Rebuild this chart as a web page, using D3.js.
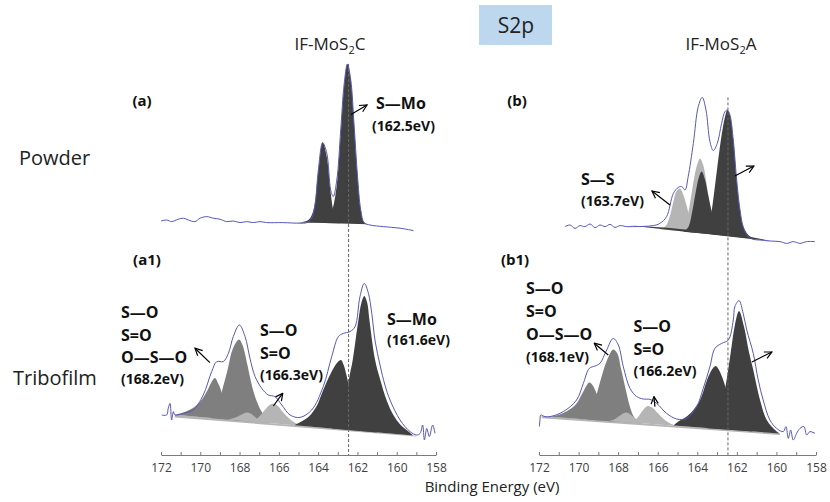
<!DOCTYPE html>
<html><head><meta charset="utf-8">
<script src="https://cdn.jsdelivr.net/npm/d3@7"></script>
<style>body{margin:0;background:#fff}svg{display:block}</style>
</head><body><svg id="c" width="830" height="502"></svg>
<script>
// ---------------- DATA (binding energy eV, intensity a.u.) ----------------
const tickEnergies = [172,171,170,169,168,167,166,165,164,163,162,161,160,159,158];
const tickLabels = [172,170,168,166,164,162,160,158];
const refEnergy = [162.45];

// (a) IF-MoS2C powder
const envA = [[172.0,12.0],[171.71,12.5],[171.46,11.7],[171.12,12.9],[170.86,13.4],[170.61,12.5],[170.27,11.7],[170.01,13.4],[169.67,14.2],[169.34,13.4],[169.0,12.9],[168.66,11.7],[168.32,12.0],[167.98,11.2],[167.64,11.7],[167.30,11.2],[166.96,11.7],[166.62,11.2],[165.8,11.2],[164.92,10.9],[164.58,11.2],[164.33,13.5],[164.16,20],[163.99,37.5],[163.77,51.2],[163.56,45.9],[163.36,27.5],[163.23,24.2],[163.05,32.5],[162.85,57.5],[162.68,80],[162.51,90.5],[162.34,82.5],[162.17,60],[162.0,35],[161.83,17.5],[161.66,11.2],[161.36,10],[160.68,9.2],[159.83,8.4],[159.15,7.2]];
const moA_1 = [[163.7,11.0],[163.45,13],[163.25,18.5],[163.05,30],[162.85,56],[162.68,79],[162.51,90.5],[162.34,82.5],[162.17,60],[162.0,35],[161.83,17.5],[161.66,11.2],[161.5,10.4]];
const moA_2 = [[165.3,11.2],[164.9,11.4],[164.5,12.5],[164.25,17],[164.0,36],[163.77,51.2],[163.56,44],[163.36,26],[163.2,16],[163.0,11.5],[162.8,10.9]];

// (b) IF-MoS2A powder
const envB = [[170.69,9.2],[170.43,10.0],[170.18,8.3],[169.93,9.7],[169.68,9.2],[169.42,10.5],[169.17,8.7],[168.92,10.0],[168.66,9.2],[168.41,10.3],[168.16,8.8],[167.91,9.7],[167.57,9.2],[167.23,9.2],[166.73,9.3],[166.22,9.7],[165.89,10.8],[165.55,14.2],[165.21,25.8],[164.96,28.8],[164.79,29.2],[164.62,27.5],[164.46,34.2],[164.20,50.8],[163.95,69.2],[163.75,73.8],[163.56,67.5],[163.36,51.7],[163.19,47.2],[162.99,50.8],[162.77,60.8],[162.60,66.7],[162.48,67.5],[162.35,65.0],[162.18,52.5],[162.01,32.5],[161.84,17.5],[161.68,9.2],[161.42,4.2],[161.17,2.8],[160.83,2.5],[160.33,2.0],[159.82,1.7],[159.48,0.8],[159.15,1.7],[158.81,0.8],[158.47,1.7],[158.05,1.7]];
const moB_1 = [[163.6,5.7],[163.4,10],[163.22,20.8],[163.0,38],[162.77,55],[162.6,64],[162.48,67.5],[162.35,65],[162.18,52.5],[162.01,32.5],[161.84,17.5],[161.68,9.2],[161.42,5.0],[161.17,3.5],[160.8,2.7]];
const moB_2 = [[164.7,6.6],[164.45,9],[164.25,17],[164.05,28],[163.9,34.5],[163.78,36.7],[163.62,33],[163.45,25],[163.3,18],[163.1,11],[162.9,6.5],[162.7,5.0]];
const ssB_1 = [[164.7,6.6],[164.54,12],[164.35,22],[164.15,34],[163.98,41],[163.86,43.3],[163.7,40],[163.55,32],[163.4,22],[163.25,14],[163.05,8],[162.8,5.5],[162.5,4.6]];
const ssB_2 = [[165.9,7.9],[165.6,9.5],[165.4,14],[165.2,22],[165.05,27],[164.88,28.3],[164.7,25],[164.55,20],[164.35,13],[164.1,8],[163.8,5.9]];
const bgB = [[167.4,9.7],[165.5,8.6],[163.5,6.6],[161.5,4.4],[160.3,2.1],[161.5,3.3],[163.5,5.5],[165.5,7.6]];

// (a1) IF-MoS2C tribofilm
const envA1 = [[171.96,15],[171.71,15],[171.63,18.5],[171.54,20.8],[171.46,12.5],[171.37,16.7],[171.29,15],[170.8,16],[170.36,17.5],[169.85,25],[169.42,36.7],[169.16,41.7],[168.83,41.7],[168.57,45.8],[168.32,54.2],[168.01,60],[167.72,54.2],[167.47,43.3],[167.21,34.2],[166.87,28.3],[166.54,25],[166.2,24.2],[165.85,20],[165.43,15],[164.92,13.8],[164.33,17.5],[163.74,29.2],[163.31,44.2],[162.97,54.2],[162.72,55.8],[162.38,56.7],[162.12,59.2],[161.87,74.2],[161.65,80.8],[161.44,75.8],[161.27,65.8],[161.1,52],[160.85,40],[160.6,30],[160.34,22.5],[159.83,12.5],[159.32,6.7],[158.98,5],[158.81,5.8],[158.68,10],[158.59,2.5],[158.47,8.3],[158.34,4.2],[158.17,10],[158.05,5.8]];
const soA1_1 = [[171.3,15.1],[170.8,16.5],[170.3,19],[169.9,23],[169.6,28],[169.4,32],[169.25,33.5],[169.1,31],[168.95,27.5],[168.8,23],[168.6,18],[168.3,14.5],[168.0,12.3]];
const soA1_2 = [[169.4,13.4],[169.2,17],[169.0,23],[168.88,27.5],[168.6,38],[168.35,48],[168.03,52.8],[167.85,50],[167.6,40],[167.47,34],[167.3,27],[167.13,22],[166.9,17],[166.7,14],[166.5,11.0]];
const sxA1_1 = [[168.6,12.8],[168.2,13.8],[167.9,15.2],[167.64,16.2],[167.4,15.5],[167.15,13.5],[166.9,11.3]];
const sxA1_2 = [[167.4,11.7],[167.1,13.3],[166.8,16.5],[166.5,19.8],[166.28,20.8],[166.05,19.5],[165.8,16.5],[165.5,13.5],[165.2,11.2],[164.9,9.6]];
const moA1_2 = [[165.2,9.9],[164.9,11.5],[164.5,14],[164.1,19],[163.74,27.5],[163.31,36.7],[163.0,41.5],[162.84,42.5],[162.7,40],[162.54,34.2],[162.35,26],[162.1,18],[161.8,12],[161.4,8.5],[161.0,6.3]];
const moA1_1 = [[163.3,8.3],[163.0,11],[162.7,18],[162.41,34],[162.24,42.5],[161.95,62.5],[161.8,71],[161.65,74.5],[161.5,71],[161.39,62.5],[161.1,42.5],[160.85,33],[160.5,22],[160.17,15],[159.8,10],[159.49,7.5],[159.15,4.7]];
const bgA1 = [[171.3,15.1],[159.0,4.6],[159.0,4.2],[171.3,13.8]];

// (b1) IF-MoS2A tribofilm
const envB1 = [[171.98,9.2],[171.95,12.5],[171.91,15],[171.7,14.2],[171.44,14.2],[170.77,16.7],[170.1,22.5],[169.76,30.8],[169.46,38.3],[169.17,39.5],[168.92,40.8],[168.58,47.5],[168.25,53.3],[167.99,50],[167.74,39.2],[167.4,28.3],[167.06,24.2],[166.73,23],[166.39,22.8],[166.05,20.8],[165.55,15.8],[165.04,13],[164.54,13.3],[164.03,19.2],[163.7,28.3],[163.36,39.2],[163.11,48.3],[162.77,50.8],[162.43,52.5],[162.18,62.5],[162.1,69.2],[161.89,72.2],[161.68,65.8],[161.5,57.5],[161.17,45.8],[160.92,32.5],[160.67,22.5],[160.33,12.5],[159.99,8.3],[159.65,6.7],[159.52,9.2],[159.4,3.3],[159.28,7.5],[159.15,2.5],[158.98,5.8],[158.81,8.3],[158.61,9.2],[158.47,5],[158.31,6.7],[158.05,5.8]];
const soB1_1 = [[171.4,14.1],[170.9,15.5],[170.5,17.5],[170.1,20.8],[169.76,26.7],[169.46,31.2],[169.3,30],[169.08,25.5],[168.9,20],[168.7,16],[168.4,13],[168.1,11.6]];
const soB1_2 = [[169.6,12.8],[169.35,16],[169.08,25.5],[168.9,32],[168.58,42],[168.25,47.8],[168.05,46],[167.85,38],[167.6,27],[167.4,19],[167.2,14],[166.95,11.5],[166.7,10.7]];
const sxB1_1 = [[168.5,12.0],[168.2,12.8],[167.9,14.8],[167.6,16.2],[167.35,15],[167.1,13],[166.85,10.9]];
const sxB1_2 = [[167.4,11.3],[167.1,12.8],[166.85,16],[166.6,19],[166.48,19.5],[166.25,18.5],[166.0,16],[165.7,13],[165.4,11],[165.1,9.6]];
const moB1_2 = [[165.2,9.7],[164.96,11.7],[164.5,14.5],[164.2,17.5],[163.86,22.5],[163.44,34.2],[163.2,38.5],[163.06,39.5],[162.9,37.5],[162.69,32.5],[162.52,27],[162.3,19],[162.0,12],[161.6,8.5],[161.2,6.8]];
const moB1_1 = [[163.5,8.4],[163.1,11],[162.8,18],[162.52,32.5],[162.3,47],[162.1,60],[161.89,67],[161.64,59.2],[161.4,47],[161.17,37.5],[160.83,22.5],[160.49,12.5],[160.07,7.5],[159.85,5.8]];
const bgB1 = [[171.86,14.5],[159.82,5.8],[159.82,5.0],[171.86,13.4]];

// annotation arrows in data coordinates [from, to]
const arrowsA = [[[162.33,65.3],[161.51,70]]];
const arrowsB = [[[165.38,20],[166.29,27]],[[162.10,34.5],[161.14,39.5]]];
const arrowsA1 = [[[169.51,41.2],[170.27,48.4]],[[166.28,19.5],[165.80,25.9]]];
const arrowsB1 = [[[168.50,45],[169.21,50.9]],[[166.14,19.2],[166.19,24.2]],[[161.24,41.5],[160.23,46.5]]];

// ---------------- STYLE / LAYOUT ----------------
const C = {dark:"#404040", mid:"#7f7f7f", light:"#b5b5b5", env:"#5558b8"};
const FONT = "'Open Sans', 'Noto Sans', sans-serif";
const axisY = 455;

const svg = d3.select("#c");
const defs = svg.append("defs");
defs.append("marker").attr("id","ah").attr("viewBox","0 0 10 10").attr("refX",9).attr("refY",5)
  .attr("markerWidth",9).attr("markerHeight",9).attr("markerUnits","userSpaceOnUse").attr("orient","auto")
  .append("path").attr("d","M1,1 L9,5 L1,9").attr("fill","none").attr("stroke","#000").attr("stroke-width",1.3);

const xL = d3.scaleLinear().domain([172,158]).range([161,436]);
const xR = d3.scaleLinear().domain([172,158]).range([539,816]);
const yTop = d3.scaleLinear().domain([0,100]).range([245,45]);
const yBot = d3.scaleLinear().domain([0,100]).range([445,245]);

const panels = [
  {x:xL, y:yTop, env:envA, comps:[[moA_2,C.dark],[moA_1,C.dark]], arrows:arrowsA},
  {x:xR, y:yTop, env:envB, comps:[[ssB_2,C.light],[ssB_1,C.light],[bgB,C.dark,true],[moB_2,C.dark],[moB_1,C.dark]], arrows:arrowsB},
  {x:xL, y:yBot, env:envA1, comps:[[bgA1,C.light,true],[soA1_1,C.mid],[soA1_2,C.mid],[sxA1_1,C.light],[sxA1_2,C.light],[moA1_2,C.dark],[moA1_1,C.dark]], arrows:arrowsA1, axis:true},
  {x:xR, y:yBot, env:envB1, comps:[[bgB1,C.light,true],[soB1_1,C.mid],[soB1_2,C.mid],[sxB1_1,C.light],[sxB1_2,C.light],[moB1_2,C.dark],[moB1_1,C.dark]], arrows:arrowsB1, axis:true}
];

// dashed reference lines (from top-panel peak down to axis)
[[xL,envA],[xR,envB]].forEach(([x,env])=>{
  const top = d3.max(env, d=>d[1]);
  svg.append("line").attr("x1",x(refEnergy[0])).attr("x2",x(refEnergy[0]))
    .attr("y1",yTop(top)).attr("y2",axisY)
    .attr("stroke","#666").attr("stroke-width",1).attr("stroke-dasharray","3,2");
});

panels.forEach(p=>{
  const g = svg.insert("g","line");
  const smooth = d3.line().x(d=>p.x(d[0])).y(d=>p.y(d[1])).curve(d3.curveCatmullRom.alpha(0.5));
  const lin = d3.line().x(d=>p.x(d[0])).y(d=>p.y(d[1]));
  p.comps.forEach(([pts,col,poly])=>{
    g.append("path").attr("d",(poly?lin(pts):smooth(pts))+"Z").attr("fill",col).attr("stroke","none");
  });
  g.append("path").attr("d",smooth(p.env)).attr("fill","none").attr("stroke",C.env).attr("stroke-width",1);
  p.arrows.forEach(([a,b])=>{
    svg.append("line").attr("x1",p.x(a[0])).attr("y1",p.y(a[1])).attr("x2",p.x(b[0])).attr("y2",p.y(b[1]))
      .attr("stroke","#000").attr("stroke-width",1.2).attr("marker-end","url(#ah)");
  });
  if(p.axis){
    const ax = svg.append("g").attr("transform",`translate(0,${axisY})`)
      .call(d3.axisBottom(p.x).tickValues(tickEnergies).tickSize(-3).tickSizeOuter(0).tickPadding(8)
        .tickFormat(d=>tickLabels.includes(d)?d:""));
    ax.select(".domain").attr("stroke","#7a7a7a");
    ax.selectAll(".tick line").attr("stroke","#7a7a7a");
    ax.selectAll("text").attr("font-family",FONT).attr("font-size",12).attr("fill","#404040");
  }
});

// title box
svg.append("rect").attr("x",479).attr("y",5).attr("width",73).attr("height",40).attr("fill","#bdd7ee");

// texts
const texts = [
  {t:"S2p", x:516, y:32.5, s:21, a:"middle"},
  {t:"Powder", x:19, y:165, s:20},
  {t:"Tribofilm", x:13, y:384.5, s:20},
  {t:"Binding Energy (eV)", x:492, y:492, s:15, a:"middle"},
  {t:"(a)", x:142, y:106, s:15, b:1, a:"middle"},
  {t:"(b)", x:517, y:106, s:15, b:1, a:"middle"},
  {t:"(a1)", x:147, y:265, s:15, b:1, a:"middle"},
  {t:"(b1)", x:515, y:265, s:15, b:1, a:"middle"},
  {t:"S—Mo", x:376, y:109, s:16, b:1},
  {t:"(162.5eV)", x:372, y:131, s:14, b:1},
  {t:"S—S", x:581, y:185, s:16, b:1},
  {t:"(163.7eV)", x:581, y:206, s:14, b:1},
  {t:"S—O", x:121, y:317.5, s:16, b:1},
  {t:"S=O", x:121, y:341, s:16, b:1},
  {t:"O—S—O", x:121, y:363, s:16, b:1},
  {t:"(168.2eV)", x:121, y:383.5, s:14, b:1},
  {t:"S—O", x:260, y:336, s:16, b:1},
  {t:"S=O", x:260, y:359, s:16, b:1},
  {t:"(166.3eV)", x:260, y:380, s:14, b:1},
  {t:"S—Mo", x:387, y:325, s:16, b:1},
  {t:"(161.6eV)", x:387, y:345, s:14, b:1},
  {t:"S—O", x:526, y:293.5, s:16, b:1},
  {t:"S=O", x:526, y:317, s:16, b:1},
  {t:"O—S—O", x:526, y:340, s:16, b:1},
  {t:"(168.1eV)", x:526, y:362, s:14, b:1},
  {t:"S—O", x:633.5, y:332, s:16, b:1},
  {t:"S=O", x:633.5, y:355, s:16, b:1},
  {t:"(166.2eV)", x:633.5, y:376, s:14, b:1}
];
texts.forEach(d=>{
  svg.append("text").attr("x",d.x).attr("y",d.y).attr("font-family",FONT).attr("font-size",d.s)
    .attr("font-weight",d.b?"bold":"normal").attr("text-anchor",d.a||"start")
    .attr("fill",d.b?"#111":"#222").text(d.t);
});
// titles with subscript
[["IF-MoS","C",330],["IF-MoS","A",721]].forEach(([a,c,x])=>{
  const t = svg.append("text").attr("x",x).attr("y",50).attr("text-anchor","middle")
    .attr("font-family",FONT).attr("font-size",17).attr("fill","#222");
  t.append("tspan").text(a);
  t.append("tspan").attr("font-size",11).attr("dy",4).text("2");
  t.append("tspan").attr("dy",-4).text(c);
});
</script></body></html>
